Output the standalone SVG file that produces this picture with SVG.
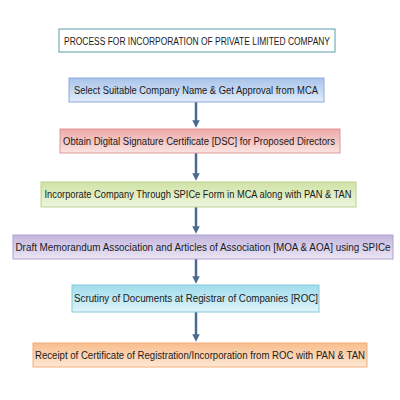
<svg xmlns="http://www.w3.org/2000/svg" width="400" height="400" viewBox="0 0 400 400">
<defs>
<linearGradient id="gBlue" x1="0" y1="0" x2="0" y2="1"><stop offset="0" stop-color="#a9c4ea"/><stop offset="0.5" stop-color="#c4d7f2"/><stop offset="1" stop-color="#e3ecf9"/></linearGradient>
<linearGradient id="gRed" x1="0" y1="0" x2="0" y2="1"><stop offset="0" stop-color="#eeaaa8"/><stop offset="0.5" stop-color="#f4c6c4"/><stop offset="1" stop-color="#fae3e2"/></linearGradient>
<linearGradient id="gGreen" x1="0" y1="0" x2="0" y2="1"><stop offset="0" stop-color="#cfe3a6"/><stop offset="0.5" stop-color="#dfecc1"/><stop offset="1" stop-color="#eef5df"/></linearGradient>
<linearGradient id="gPurple" x1="0" y1="0" x2="0" y2="1"><stop offset="0" stop-color="#c3b5de"/><stop offset="0.5" stop-color="#d7cdea"/><stop offset="1" stop-color="#ebe6f5"/></linearGradient>
<linearGradient id="gCyan" x1="0" y1="0" x2="0" y2="1"><stop offset="0" stop-color="#9fdcec"/><stop offset="0.5" stop-color="#bfe8f3"/><stop offset="1" stop-color="#e0f4f9"/></linearGradient>
<linearGradient id="gOrange" x1="0" y1="0" x2="0" y2="1"><stop offset="0" stop-color="#f9bd8c"/><stop offset="0.5" stop-color="#fbd2b0"/><stop offset="1" stop-color="#fde8d7"/></linearGradient>
<marker id="ah" markerWidth="3" markerHeight="3" refX="1.5" refY="1.5" orient="auto" markerUnits="strokeWidth"><path d="M0,0 L3,1.5 L0,3 Z" fill="#4a6a90"/></marker>
<style>
text{font-family:"Liberation Sans",Arial,sans-serif;font-size:10px;fill:#1a1a1a;text-anchor:middle;dominant-baseline:central}
.box{stroke-width:1}
.con{stroke:#4a6a90;stroke-width:2.5;fill:none}
</style>
</defs>
<rect width="400" height="400" fill="#ffffff"/>
<g id="title">
<rect x="59" y="29" width="276" height="23" fill="#ffffff" stroke="#5a9ea8" stroke-width="1"/>
<text x="197" y="41" textLength="266" lengthAdjust="spacingAndGlyphs">PROCESS FOR INCORPORATION OF PRIVATE LIMITED COMPANY</text>
</g>
<g id="connectors">
<line class="con" x1="196" y1="102" x2="196" y2="124" marker-end="url(#ah)"/>
<line class="con" x1="196" y1="153" x2="196" y2="177" marker-end="url(#ah)"/>
<line class="con" x1="196" y1="207" x2="196" y2="230" marker-end="url(#ah)"/>
<line class="con" x1="196" y1="259" x2="196" y2="280" marker-end="url(#ah)"/>
<line class="con" x1="196" y1="312" x2="196" y2="338" marker-end="url(#ah)"/>
</g>
<g id="step1">
<rect class="box" x="69" y="78" width="255" height="24" fill="url(#gBlue)" stroke="#8eaadb"/>
<text x="196" y="90" textLength="244" lengthAdjust="spacingAndGlyphs">Select Suitable Company Name &amp; Get Approval from MCA</text>
</g>
<g id="step2">
<rect class="box" x="60" y="129" width="280" height="24" fill="url(#gRed)" stroke="#dd9896"/>
<text x="199" y="141" textLength="272" lengthAdjust="spacingAndGlyphs">Obtain Digital Signature Certificate [DSC] for Proposed Directors</text>
</g>
<g id="step3">
<rect class="box" x="41" y="182" width="315" height="25" fill="url(#gGreen)" stroke="#b9d28e"/>
<text x="198" y="194.5" textLength="307" lengthAdjust="spacingAndGlyphs">Incorporate Company Through SPICe Form in MCA along with PAN &amp; TAN</text>
</g>
<g id="step4">
<rect class="box" x="13" y="235" width="380" height="24" fill="url(#gPurple)" stroke="#b0a0cf"/>
<text x="203" y="247" textLength="375" lengthAdjust="spacingAndGlyphs">Draft Memorandum Association and Articles of Association [MOA &amp; AOA] using SPICe</text>
</g>
<g id="step5">
<rect class="box" x="72" y="285" width="247" height="27" fill="url(#gCyan)" stroke="#86cbdc"/>
<text x="196" y="298.5" textLength="244" lengthAdjust="spacingAndGlyphs">Scrutiny of Documents at Registrar of Companies [ROC]</text>
</g>
<g id="step6">
<rect class="box" x="33" y="343" width="334" height="24" fill="url(#gOrange)" stroke="#f4ae78"/>
<text x="200" y="355" textLength="330" lengthAdjust="spacingAndGlyphs">Receipt of Certificate of Registration/Incorporation from ROC with PAN &amp; TAN</text>
</g>
</svg>
